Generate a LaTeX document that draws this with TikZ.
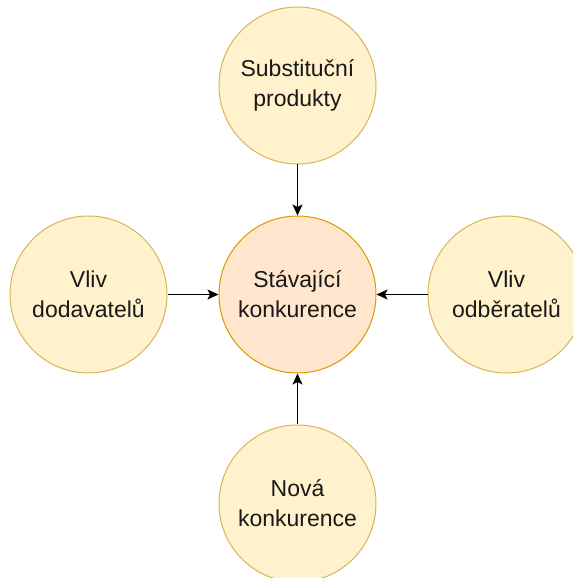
\documentclass[tikz,border=0pt]{standalone}
\usepackage{fontspec}
\setmainfont{Liberation Sans}
\usepackage{xcolor}
\usetikzlibrary{arrows.meta, positioning}
\definecolor{forceFill}{HTML}{FFF2CC}
\definecolor{forceLine}{HTML}{D6B656}
\definecolor{rivalFill}{HTML}{FFE6CC}
\definecolor{rivalLine}{HTML}{D79B00}

\begin{document}
\begin{tikzpicture}[x=1pt, y=1pt, node distance=51pt,
    force/.style={circle, draw=forceLine, fill=forceFill, line width=1pt,
        minimum size=157pt, inner sep=0pt, align=center, text=black!90,
        font=\fontsize{23}{30}\selectfont},
    rival/.style={force, draw=rivalLine, fill=rivalFill},
    push/.style={-{Stealth[length=11pt, width=10pt, inset=2.5pt]}, line width=1.3pt}]
    \useasboundingbox (0,0) rectangle (573,578);
    \clip (0,0) rectangle (573,578);

    % Centre and the four forces around it
    \node[rival] (rivalry) at (297.5,283.5) {Stávající\\konkurence};
    \node[force, above=of rivalry] (substitutes) {Substituční\\produkty};
    \node[force, left=of rivalry] (suppliers) {Vliv\\dodavatelů};
    \node[force, right=of rivalry] (buyers) {Vliv\\odběratelů};
    \node[force, below=of rivalry] (entrants) {Nová\\konkurence};

    \draw[push] (substitutes) -- (rivalry);
    \draw[push] (suppliers) -- (rivalry);
    \draw[push] (buyers) -- (rivalry);
    \draw[push] (entrants) -- (rivalry);
\end{tikzpicture}
\end{document}
